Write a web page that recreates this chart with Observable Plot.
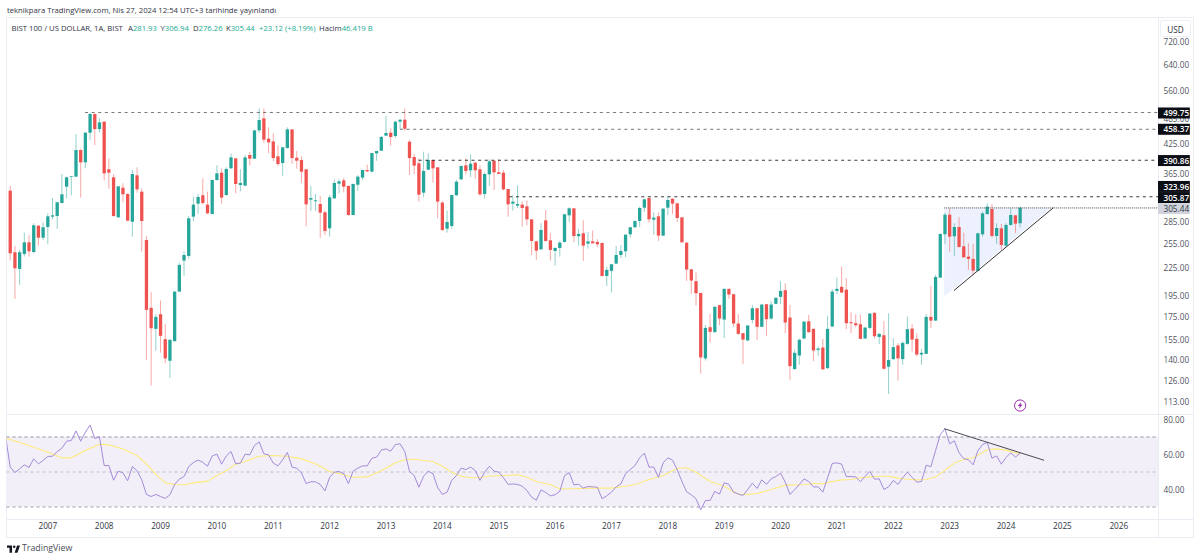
<!DOCTYPE html>
<html>
<head>
<meta charset="utf-8">
<script src="https://cdn.jsdelivr.net/npm/d3@7"></script>
<script src="https://cdn.jsdelivr.net/npm/@observablehq/plot@0.6"></script>
<style>
html,body{margin:0;padding:0;background:#fff;width:1200px;height:560px;overflow:hidden}
#page{position:relative;width:1200px;height:560px;font-family:"Open Sans",sans-serif;color:#131722}
#page>svg{position:absolute;left:0}
.ln{position:absolute;background:#e9ecf3}
.t{position:absolute;white-space:nowrap}
.v{color:#22ab94}
.leg{font-size:7.7px;color:#30343f;top:23px}
</style>
</head>
<body>
<div id="page">
  <div class="ln" style="left:6px;top:17px;width:1188px;height:1px"></div>
  <div class="ln" style="left:6px;top:17px;width:1px;height:520px"></div>
  <div class="ln" style="left:1193px;top:17px;width:1px;height:520px"></div>
  <div class="ln" style="left:1158px;top:17px;width:1px;height:520px"></div>
  <div class="ln" style="left:6px;top:414px;width:1188px;height:1px"></div>
  <div class="ln" style="left:6px;top:519px;width:1188px;height:1px"></div>
  <div class="ln" style="left:6px;top:537px;width:1188px;height:1px"></div>
  <div class="t" style="left:7px;top:5px;font-size:7.7px;color:#30343f">teknikpara TradingView.com, Nis 27, 2024 12:54 UTC+3 tarihinde yayınlandı</div>
  <div class="t leg" style="left:11.5px">BIST 100 / US DOLLAR, 1A, BIST</div>
  <div class="t leg" style="left:128px">A<span class="v">281.93</span></div>
  <div class="t leg" style="left:160.5px">Y<span class="v">306.94</span></div>
  <div class="t leg" style="left:193px">D<span class="v">276.26</span></div>
  <div class="t leg" style="left:226px">K<span class="v">305.44</span></div>
  <div class="t leg" style="left:259px"><span class="v">+23.12 (+8.19%)</span></div>
  <div class="t leg" style="left:319px">Hacim<span class="v">46.419 B</span></div>
  <svg style="top:544.5px;left:6.5px" width="13" height="9" viewBox="0 0 36 22"><path fill="#131722" d="M14 0H0v6h7v14h7V0zm15 20h-8l7-20h8l-7 20zm-9-13a3.5 3.5 0 1 0 0-7 3.5 3.5 0 0 0 0 7z"/></svg>
  <div class="t" style="left:22px;top:542px;font-size:8.8px;color:#4a4d57">TradingView</div>
</div>
<script>
// Monthly candles, May 2006 to April 2024, BIST 100 / USD
const firstYear = 2006, firstMonth = 4;
const opens = [
333.4,242.9,222.9,240.8,255.6,243.2,278.5,261.8,276.6,291.7,292.7,312.9,
340.3,357.7,358.3,410.9,385.7,449.2,494.5,457.7,475.4,372.1,357.1,290.7,
338.5,327.8,284.2,360.8,331.7,258.7,182.5,163.8,176.6,155.3,139,153.7,
198.4,232.7,238.3,291.7,311.9,325.6,310.3,295.7,352.2,365.7,326,374,
393.7,343.2,342.1,400.5,393,454.6,483.6,435.6,429.6,397.8,384.4,415.2,
457,395,390.3,372.1,318.4,315.6,311.3,298.3,274.7,320.5,345.6,351.6,
341.5,294.2,343.8,356.5,370.8,367.6,403.9,409.5,442.4,449.2,441.6,475.4,
480.3,428.9,396.4,383.7,330,371.4,390.3,375.9,313.5,274.2,278,325.6,
353.4,379.8,370.2,385,372.1,327.8,362.6,389,366.4,365.7,336.2,311.9,
308.7,310.3,307.6,287.7,256.9,246.6,286.2,258.3,244.5,248.3,256.1,293.7,
304.5,263.7,267.8,253.9,256.9,256.1,254.7,215,220.7,229.1,239.5,244.1,
266.4,276.2,285.2,305.5,321.1,287.2,292.2,264.6,305.5,319.9,312.4,290.7,
255.2,222.5,209.3,197,140.7,165.2,161,185,171.8,201.2,195.7,168.3,
160.2,154.3,171.5,182.1,165.5,185.9,172.7,186.3,193.1,199.8,173.6,133.2,
142.8,155.9,170.3,163.8,147,148.8,133.8,165.8,199.1,203.3,200.4,169.5,
168.6,167.7,155.9,164.6,177.8,157.1,158.5,134.8,140.2,150.4,140.2,151.6,
164,155.6,143.5,144,174.2,170.9,213.2,266.4,294.7,263.7,276.6,250.4,
237.5,234.7,220.7,266.4,295.7,303.4,264.1,274.7,251.3,279.5,293.7,281.93];
const closes = [
241.6,223.7,242.9,255.6,244.1,279,261.8,276.2,292.2,293.7,314,327.2,
357.1,358.9,410.9,385.7,449.2,494.5,457.7,473.7,364.5,365.7,292.7,340.9,
327.2,285.7,363.3,335.7,285.2,180.6,164.3,174.2,158,140.7,154.8,198.4,
227.6,239.5,289.2,310.3,322.7,312.9,296.7,352.2,364.5,321.7,372.8,395.7,
345,346.8,395.7,393,454.6,479.5,433.4,427.5,394.3,382.4,416.6,457,
394.3,389,367.6,310.8,321.1,317.2,297.7,271,322.1,346.8,349.8,340.3,
294.2,345,358.3,370.8,368.3,404.6,408.8,439.4,448.5,439.4,475.4,480.3,
458.5,394.3,379.2,326.6,369,390.3,374,315.1,272.4,283.8,326,349.2,
378.5,369,383,370.2,327.2,363.3,387.7,366.4,363.3,335.7,310.8,315.1,
311.3,305,287.7,257.4,244.9,272.4,257.4,245.8,248.3,255.2,295.2,304.5,
264.1,266.9,251.3,256.9,254.3,253,215,221.8,228.3,239.5,244.5,265.9,
276.2,285.2,305,318.9,287.7,290.2,264.6,304,317.8,311.9,289.7,255.6,
222.2,210,196.7,141.4,164.6,161.3,183.4,172.7,201.2,195.4,168.3,159.6,
155,166.6,182.1,165.5,185.6,172.1,185.6,192.1,199.1,169.2,135.2,144.8,
154.8,170,161,146.5,148,133,163.8,198.4,201.2,197.4,168.6,168.6,
166.9,155.6,164.9,177.2,157.7,159.6,133.4,139.5,149.1,140.7,152.4,163.5,
155,143.5,144.8,174.2,170.9,213.9,266.9,294.7,263.2,276.6,249.6,236.7,
234.7,221,267.8,296.7,307.1,264.1,275.2,252.1,279.5,294.2,281.4,305.44];
const highs = [
341.5,250.9,245.8,268.7,265,281.9,279,283.3,296.7,321.1,315.1,363.3,
358.3,359.5,446.2,413.7,450.8,497.9,496.2,484.4,476.2,393.7,362.6,341.5,
346.2,328.9,370.8,375.9,337.4,264.1,197.7,176.6,189.5,168,155.3,198.7,
230.3,244.1,292.7,323.3,327.8,355.2,331.7,353.4,379.8,373.4,375.9,403.9,
393.7,372.1,400.5,406.7,455.4,508.9,508.9,461.7,447.7,420.9,418,461.7,
457,408.8,398.4,372.1,341.5,327.8,324.4,300.9,326,353.4,353.4,355.9,
342.7,346.2,360.8,371.4,381.1,405.3,409.5,441.6,489.5,459.3,477.8,481,
508.9,432.6,402.5,393.7,407.4,403.9,390.3,375.9,316.2,300.9,326.6,352.2,
379.8,393.7,401.8,386.4,379.8,366.4,391.6,389,391.6,370.8,336.2,325.6,
342.7,315.6,316.7,287.7,257.8,281.9,301.9,267.8,249.2,257.8,295.7,306,
304.5,273.8,286.2,269.7,271.5,259.6,255.6,225.6,228.7,250.9,252.1,266.4,
276.6,286.2,307.1,319.9,321.1,298.3,298.3,304.5,325,320.5,312.4,290.7,
255.6,222.5,218.8,197.4,167.2,176.9,184.3,185.3,201.8,201.5,196.1,176.6,
160.2,167.2,185,182.5,186.3,186.3,188.8,192.8,209.3,207.1,185.3,147,
155.9,170.3,176,164,149.6,155.6,175.1,201,213.2,225.6,212.5,178.4,
176.6,176,165.2,177.5,178.4,160.2,170.6,177.5,156.1,152.1,153.5,174.5,
168,160.2,147.8,176.6,204.3,216.1,267.8,297.7,304.5,281.9,290.7,268.7,
254.3,253.4,268.3,299.3,312.4,311.3,281.9,280.9,281.9,304.5,294.2,306.94];
const lows = [
232.7,191.1,205.3,237.5,237.5,241.6,251.3,258.7,253,287.7,273.8,312.4,
320.5,325.6,358.3,321.7,374,433.4,421.6,449.2,351.6,336.8,291.7,289.7,
314,285.2,263.2,330,243.9,139.7,122.4,146.3,145,137.3,127.1,153.5,
198,215.4,235.1,285.2,295.7,310.3,295.7,295.2,351,311.9,325,373.4,
328.9,332,341.5,379.8,393,448.5,426.7,404.6,387.7,378.5,359.5,413.7,
382.4,373.4,347.4,277.1,300.4,300.4,261.8,265.5,263.2,319.4,328.9,330.6,
293.2,293.7,332.8,352.2,367,366.4,389,408.8,441.6,420.2,437,457.7,
453.8,361.4,363.3,315.1,322.1,370.8,347.4,289.2,271,268.7,274.2,325,
352.2,362.6,357.7,354.6,325,319.9,341.5,334.5,363.3,333.4,291.7,300.9,
305,277.1,279,239.5,233.5,245.8,256.5,232.7,226.8,237.5,255.2,283.8,
255.6,251.3,232.3,247.5,254.3,249.2,214.3,204.3,197.4,228.7,235.9,236.7,
261.8,275.7,276.6,298.8,282.8,265.9,257.4,264.1,293.7,295.7,283.8,255.6,
209.6,196.1,184.7,130.2,139.2,152.6,160.7,166.9,156.1,191.1,165.5,158.8,
136.8,153.7,168.6,154.5,165.2,158,171.5,185.9,185.9,160.2,126,132.7,
136.2,155.3,160.5,138.7,142.6,132.7,133.4,165.2,195.7,197.4,163.5,160.2,
165.2,155.3,155.3,163.5,155.9,151.4,132.7,117.1,139.5,125.4,136.2,150.9,
145.8,142.1,136.2,143.8,164.6,170.6,212.9,253.4,243.7,238.3,248.7,235.5,
221.8,215.8,220.3,263.2,294.2,262.3,253.4,245.8,249.2,278.5,268.3,276.26];
// RSI: starts one month before the first candle
const rsi = [70.5,
52.8,49.7,51.8,54.1,52.6,57.5,54.7,56.6,58.9,59,61.7,63.6,
67.6,68,73.5,67.6,72.8,76.8,69.2,70.1,53.7,53.7,45.3,50.5,
49.5,45,53.1,50.7,45.5,37.2,36,37.2,36,34.9,37,42.9,
45.9,47.4,53.1,55.4,56.8,55.6,53.3,59.2,60.2,54.5,59.2,61.7,
54.7,55.1,60.2,59.8,65.1,67.2,60.4,59.8,55.1,53.5,57,61.2,
52.8,52.2,49.5,43.4,44.4,44.4,42.9,39.2,47,49.9,50.3,49.1,
43.4,50.5,52.2,53.5,53.5,57.9,58.5,62.5,63.2,61.9,65.7,66.1,
61.7,50.3,48,41.3,47.6,50.5,49,41.1,37.2,38.5,45.2,48,
52.2,51.4,52.8,50.9,45.2,49.9,53.3,50.5,49.9,46.7,42.9,43.2,
42.9,41.9,39.4,35.6,33.9,39.8,38.3,36.4,37,39,47.8,49.7,
42.7,43,40.8,41.7,41.5,41.3,34.7,36.4,38.5,41.5,43.2,49,
51.4,53.7,58.1,60.8,52.8,52.8,46.9,55.2,58.1,56.8,51.2,44.6,
38.7,37,34.7,28.4,33.7,33.7,38.9,37.4,43.8,43,38.5,37.4,
36.6,40,43.6,40.6,45.5,43,46.1,47.4,49.3,44.2,37.2,39.8,
42.9,46.1,44.6,41.5,41.5,38.5,46.7,54.9,55.2,54.5,47.4,47.4,
47.2,44.4,47.6,50.3,45.9,46.1,40,41.5,45.2,42.9,46.7,49.9,
47,44.2,44.6,53.9,53,62.3,71.4,74.7,66.1,67.8,61,57.7,
57,54.1,62.1,65.7,66.9,57.9,59.2,54.5,58.3,61,58.5,60.8];
// RSI moving average, read at the listed candle numbers
const maAt = [0,3,6,9,12,14,17,20,22,25,28,30,32,34,36,38,40,43,45,47,49,51,54,57,60,63,66,69,71,74,77,80,83,85,87,89,91,93,95,97,99,101,103,106,109,111,113,116,118,121,125,129,132,134,137,140,143,145,147,150,153,156,158,160,163,166,170,172,174,176,178,180,182,184,186,188,190,192,194,196,198,200,202,204,206,208,209,211,213,215,216];
const maValues = [69.3,67.05,64.2,61.3,58.1,58.1,62.3,65.9,65.5,63.2,59.4,54.7,48.6,43.8,42.9,42.7,43.8,44.8,48,50.7,54.5,56,59,59.4,59,57.5,54.7,50.3,49.1,47,47.2,50.7,55.3,57,57.3,56.6,56,53.3,49.9,47.6,46.7,46.7,47.6,48,48.4,47,44.6,42.7,40.4,40.4,40.8,40.8,41.9,42.7,45.7,48,52,52.4,49.9,44.6,41.9,37.3,37.2,37.7,40,42.5,42.7,43.4,43.2,44.6,45.5,45.7,46.7,47.2,47.6,47.6,46.5,45.9,45.5,45.7,47.2,50.9,55.1,57.1,58.1,61,62.7,63.2,62.5,61,60.4];

// Annotations
const levels = [499.75,458.37,390.86,323.96];
const levelStarts = [2007.67,2013.257,2013.59,2015.196];
const levelOpacity = [0.62,0.62,0.9,0.9];
const priceTicks = [720,640,560,485,425,365,285,255,225,195,175,155,140,126,113];
const boxPrices = [499.75,458.37,390.86,323.96,305.87,305.44];
const boxShifts = [0.5,0,0.3,-10.3,-10.4,0.4];
const wedgeX = [2022.912,2024.817];
const wedgeLow = [193.4,305.87];
const wedgeTop = 305.87;
const supportX = [2023.08,2024.835];
const supportY = [200.2,305.87];
const rsiTrendX = [2022.912,2024.669];
const rsiTrendY = [74.67,56.77];
const rsiLevels = [70,50,30];
const rsiTicks = [80,60,40];
const years = d3.range(2007,2027);

const UP="#26a69a", DOWN="#ef5350", xDomain=[2006.276,2026.705], boxEnd=2027.27;
const font="'Open Sans',sans-serif";
const monthX = i => firstYear + (firstMonth + i)/12;
const candles = opens.map((o,i)=>({x:monthX(i),open:o,close:closes[i],high:highs[i],low:lows[i],color:closes[i]>=o?UP:DOWN}));
const rsiRows = rsi.map((v,i)=>({x:monthX(i-1),v}));
const maRows = maValues.map((v,i)=>({x:monthX(maAt[i]-1),v}));
const bolt = {draw(c,s){const k=Math.sqrt(s/Math.PI);
  [[.4,-1.2],[-.8,.2],[-.1,.2],[-.4,1.2],[.8,-.3],[.1,-.3]].forEach(([a,b],i)=>i?c.lineTo(a*k,b*k):c.moveTo(a*k,b*k));c.closePath();}};
const shared = {width:1200,marginLeft:6.5,marginRight:42,x:{domain:xDomain,axis:null}};

const boxMarks = boxPrices.flatMap((p,i)=>{
  const last = p===305.44;
  return [
    Plot.ruleY([p],{y:d=>d,x1:xDomain[1],x2:boxEnd,stroke:last?"#d1d4dc":"#0b0e15",strokeWidth:11,dy:boxShifts[i]}),
    Plot.text([p],{y:d=>d,x:xDomain[1],text:d=>d.toFixed(2),dx:5,dy:boxShifts[i]+0.5,textAnchor:"start",fill:last?"#30343f":"#fff",fontSize:8.2,fontWeight:last?400:600})
  ];
});

const price = Plot.plot({...shared,height:415,marginTop:18,marginBottom:1,
  style:{background:"transparent",fontFamily:font,position:"absolute",top:"0px",left:"0px"},
  y:{type:"log",domain:[105.7,810.4]},
  marks:[
    Plot.ruleY([305.44],{y:d=>d,stroke:"#eceef2",strokeDasharray:"1,1.5"}),
    Plot.axisY({anchor:"right",ticks:priceTicks,tickFormat:d=>d.toFixed(2),tickSize:0,tickPadding:5,dy:0.6,label:null,fontSize:8.2,fill:"#50535e"}),
    Plot.areaY(wedgeX.map((x,i)=>({x,y1:wedgeLow[i],y2:wedgeTop})),{x:"x",y1:"y1",y2:"y2",fill:"#ecf1fd"}),
    Plot.ruleX(candles,{x:"x",y1:"low",y2:"high",stroke:"color",strokeWidth:1,strokeOpacity:.5}),
    Plot.ruleX(candles,{x:"x",y1:"open",y2:"close",stroke:"color",strokeWidth:3.3}),
    ...levels.map((p,i)=>Plot.ruleY([p],{y:d=>d,x1:levelStarts[i],x2:xDomain[1],stroke:"#222",strokeOpacity:levelOpacity[i],strokeDasharray:"3,3.6"})),
    Plot.ruleY([wedgeTop],{y:d=>d,x1:wedgeX[0],x2:xDomain[1],stroke:"#555",strokeDasharray:"1,1"}),
    Plot.line(supportX.map((x,i)=>({x,y:supportY[i]})),{x:"x",y:"y",stroke:"#333",strokeWidth:1}),
    ...boxMarks,
    Plot.dot([{x:2024.25,y:110.7}],{x:"x",y:"y",r:5.6,stroke:"#9c27b0",fill:"#fff",strokeWidth:1}),
    Plot.dot([{x:2024.25,y:110.7}],{x:"x",y:"y",r:3,symbol:bolt,fill:"#9c27b0",stroke:"none"})
  ]});

const pane = Plot.plot({...shared,height:123,marginTop:1,marginBottom:18,
  style:{background:"transparent",fontFamily:font,position:"absolute",top:"414px",left:"0px"},
  y:{domain:[22.86,82.29]},
  marks:[
    Plot.rect([rsiLevels],{x1:xDomain[0],x2:xDomain[1],y1:d=>d[2],y2:d=>d[0],fill:"#f2eff9"}),
    ...rsiLevels.map(v=>Plot.ruleY([v],{y:d=>d,stroke:"#787b86",strokeOpacity:v===50?.4:.75,strokeDasharray:"3,3"})),
    Plot.line(maRows,{x:"x",y:"v",stroke:"#fdeb7d",strokeWidth:1.1,clip:true}),
    Plot.line(rsiRows,{x:"x",y:"v",stroke:"#a48ad8",strokeWidth:1,clip:true}),
    Plot.line(rsiTrendX.map((x,i)=>({x,y:rsiTrendY[i]})),{x:"x",y:"y",stroke:"#4a4a52",strokeWidth:1}),
    Plot.axisY({anchor:"right",ticks:rsiTicks,tickFormat:d=>d.toFixed(2),tickSize:0,tickPadding:5,dy:0.6,label:null,fontSize:8.2,fill:"#50535e"}),
    Plot.axisX({anchor:"bottom",ticks:years,tickFormat:d=>String(d),tickSize:0,tickPadding:4,label:null,fontSize:8.2,fill:"#30343f"})
  ]});

const page = document.getElementById("page");
page.append(price, pane);
const usd = document.createElement("div");
usd.className="t";
usd.textContent="USD";
usd.style.cssText="left:1160px;top:20px;width:31px;height:17px;line-height:17px;text-align:center;font-size:8.2px;color:#30343f;border:1px solid #eceef4;border-radius:3px;background:#fff;box-sizing:border-box";
page.append(usd);
</script>
</body>
</html>
